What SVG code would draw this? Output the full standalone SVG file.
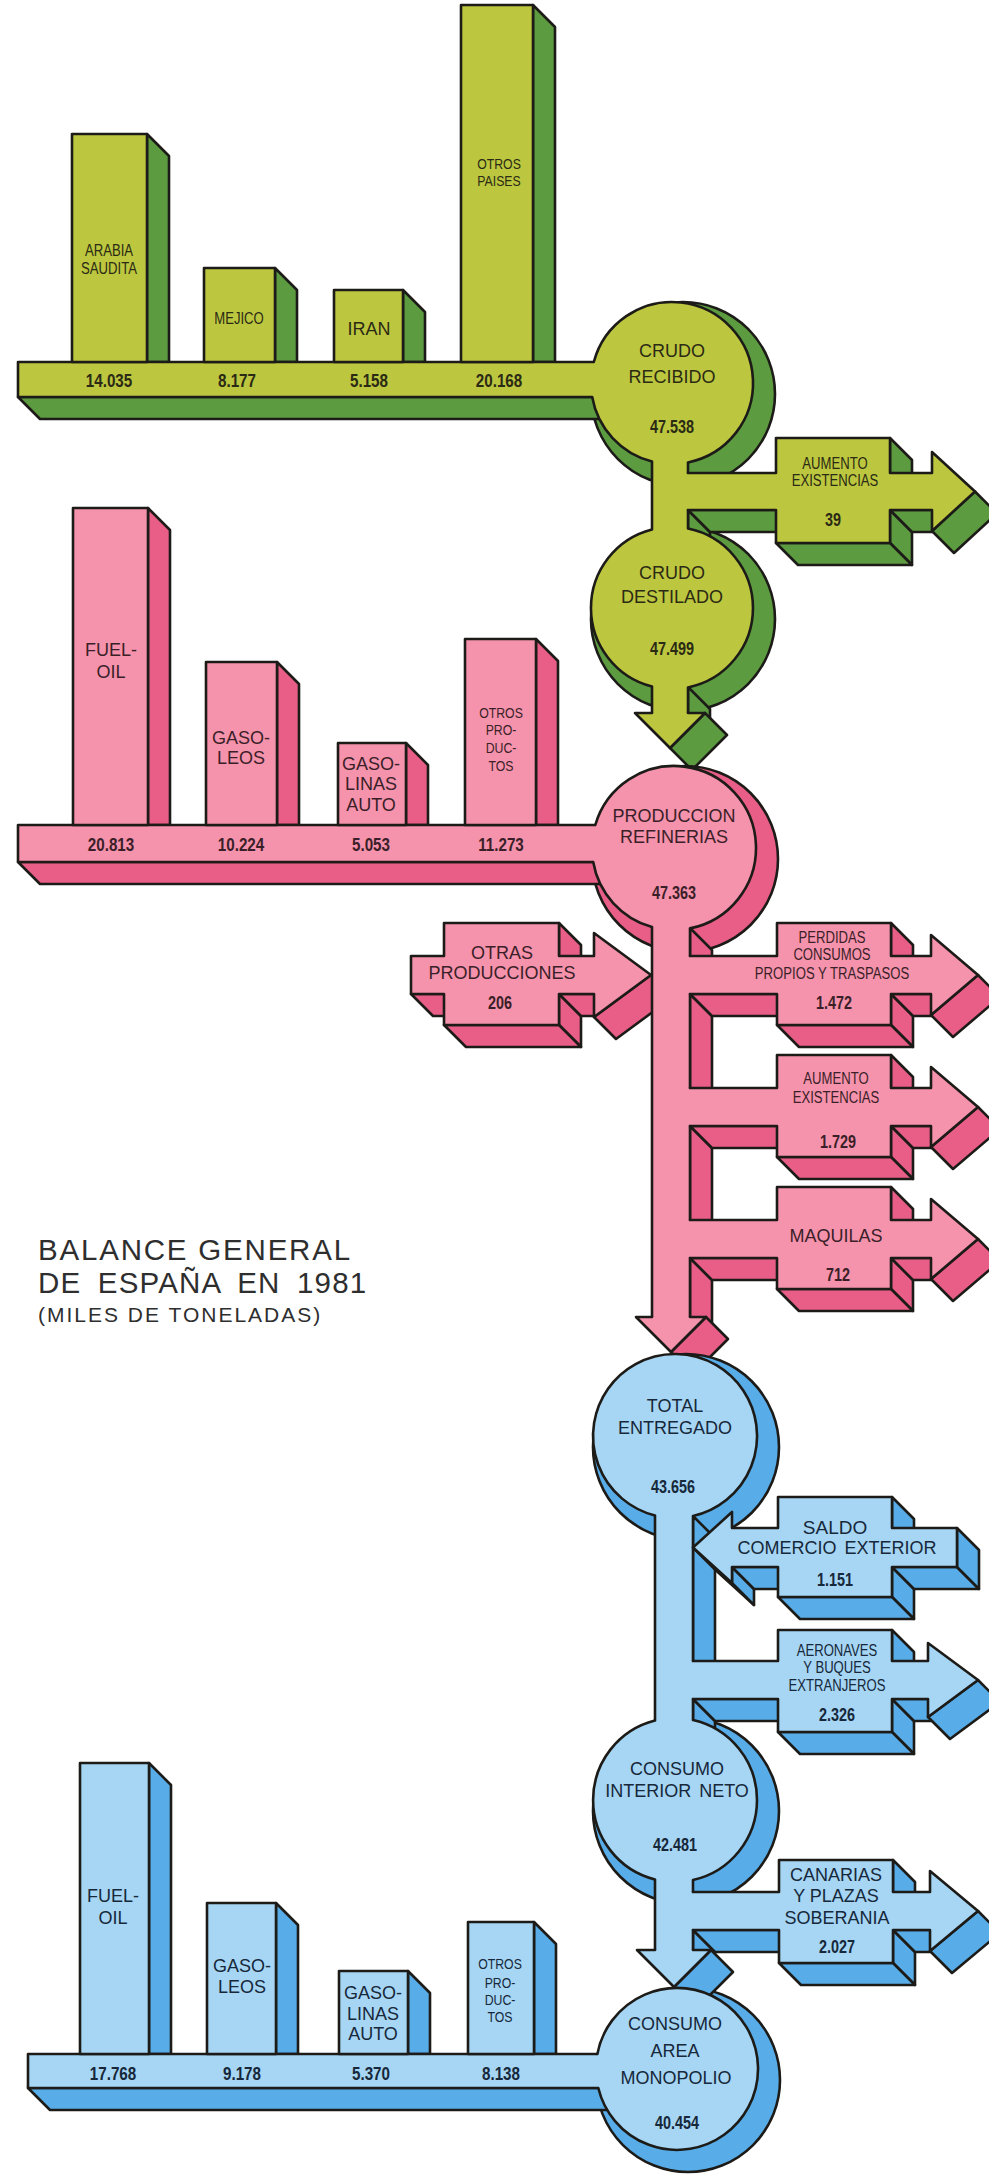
<svg xmlns="http://www.w3.org/2000/svg" width="989" height="2178" viewBox="0 0 989 2178">
<style>
.st{stroke:#1d1b18;stroke-width:2.6;stroke-linejoin:round;stroke-linecap:round}
.ln{fill:none;stroke:#1d1b18;stroke-width:2.6;stroke-linejoin:round;stroke-linecap:round}
.gL{fill:#bcc73f}.gD{fill:#5c9b40}
.pL{fill:#f592ac}.pD{fill:#e85e87}
.bL{fill:#a6d6f4}.bD{fill:#58ade8}
.t{font-family:'Liberation Sans',Arial,sans-serif;font-size:18px;text-anchor:middle}
.n{font-family:'Liberation Sans',Arial,sans-serif;font-size:16px;text-anchor:middle}
.s{font-family:'Liberation Sans',Arial,sans-serif;font-size:15px;text-anchor:middle}
.v{font-family:'Liberation Sans',Arial,sans-serif;font-weight:bold;font-size:19px;text-anchor:middle}
.cv{font-family:'Liberation Sans',Arial,sans-serif;font-weight:bold;font-size:18px;text-anchor:middle}
.tg{fill:#2b2a14}.tp{fill:#3b1f28}.tb{fill:#16283a}
.ti{font-family:'Liberation Sans',Arial,sans-serif;fill:#2e2e2e}
</style>
<rect width="989" height="2178" fill="#ffffff"/>

<g id="depth">
 <g id="depth-green" class="gD st">
  <circle cx="683" cy="394" r="92"/>
  <circle cx="683" cy="619" r="92"/>
  <path d="M147,134 L169,156 L169,362 L147,362Z"/>
  <path d="M275,268 L297,290 L297,362 L275,362Z"/>
  <path d="M403,290 L425,312 L425,362 L403,362Z"/>
  <path d="M533,5 L555,27 L555,362 L533,362Z"/>
  <path d="M18,397 L40,419 L610,419 L610,397Z"/>
  <path d="M688,510 L710,532 L710,551 L688,529Z"/>
  <path d="M688,510 L776,510 L798,532 L710,532Z"/>
  <path d="M890,438 L912,460 L912,495 L890,473Z"/>
  <path d="M890,510 L912,532 L912,565 L890,543Z"/>
  <path d="M776,543 L890,543 L912,565 L798,565Z"/>
  <path d="M890,510 L932,510 L954,532 L912,532Z"/>
  <path d="M975,491.5 L997,513.5 L954,553 L932,531Z"/>
  <path d="M688,687 L710,709 L710,735 L688,713Z"/>
  <path d="M705,713 L727,735 L692,770 L670,748Z"/>
 </g>
 <g id="depth-pink" class="pD st">
  <circle cx="685" cy="859" r="93"/>
  <path d="M148,508 L170,530 L170,825 L148,825Z"/>
  <path d="M277,662 L299,684 L299,825 L277,825Z"/>
  <path d="M406,743 L428,765 L428,825 L406,825Z"/>
  <path d="M536,639 L558,661 L558,825 L536,825Z"/>
  <path d="M18,862 L40,884 L610,884 L610,862Z"/>
  <path d="M690,928 L712,950 L712,978 L690,956Z"/>
  <path d="M690,994 L712,1016 L712,1110 L690,1088Z"/>
  <path d="M690,1126 L712,1148 L712,1242 L690,1220Z"/>
  <path d="M690,1258 L712,1280 L712,1339 L690,1317Z"/>
  <path d="M690,994 L777,994 L799,1016 L712,1016Z"/>
  <path d="M891,923 L913,945 L913,978 L891,956Z"/>
  <path d="M891,994 L913,1016 L913,1047 L891,1025Z"/>
  <path d="M777,1025 L891,1025 L913,1047 L799,1047Z"/>
  <path d="M891,994 L931,994 L953,1016 L913,1016Z"/>
  <path d="M978,975 L1000,997 L953,1037 L931,1015Z"/>
  <path d="M690,1126 L777,1126 L799,1148 L712,1148Z"/>
  <path d="M891,1055 L913,1077 L913,1110 L891,1088Z"/>
  <path d="M891,1126 L913,1148 L913,1179 L891,1157Z"/>
  <path d="M777,1157 L891,1157 L913,1179 L799,1179Z"/>
  <path d="M891,1126 L931,1126 L953,1148 L913,1148Z"/>
  <path d="M978,1107 L1000,1129 L953,1169 L931,1147Z"/>
  <path d="M690,1258 L777,1258 L799,1280 L712,1280Z"/>
  <path d="M891,1187 L913,1209 L913,1242 L891,1220Z"/>
  <path d="M891,1258 L913,1280 L913,1311 L891,1289Z"/>
  <path d="M777,1289 L891,1289 L913,1311 L799,1311Z"/>
  <path d="M891,1258 L931,1258 L953,1280 L913,1280Z"/>
  <path d="M978,1239 L1000,1261 L953,1301 L931,1279Z"/>
  <path d="M411,994 L444,994 L466,1016 L433,1016Z"/>
  <path d="M559,923 L581,945 L581,978 L559,956Z"/>
  <path d="M559,994 L581,1016 L581,1047 L559,1025Z"/>
  <path d="M444,1025 L559,1025 L581,1047 L466,1047Z"/>
  <path d="M559,994 L594,994 L616,1016 L581,1016Z"/>
  <path d="M651,975 L673,997 L616,1039 L594,1017Z"/>
  <path d="M706,1317 L728,1339 L693,1374 L671,1352Z"/>
 </g>
 <g id="depth-blue" class="bD st">
  <circle cx="686" cy="1447" r="93"/>
  <circle cx="686" cy="1811" r="93"/>
  <circle cx="688" cy="2080" r="92"/>
  <path d="M149,1763 L171,1785 L171,2054 L149,2054Z"/>
  <path d="M276,1903 L298,1925 L298,2054 L276,2054Z"/>
  <path d="M408,1971 L430,1993 L430,2054 L408,2054Z"/>
  <path d="M534,1922 L556,1944 L556,2054 L534,2054Z"/>
  <path d="M28,2088 L50,2110 L615,2110 L615,2088Z"/>
  <path d="M693,1516 L715,1538 L715,1683 L693,1661Z"/>
  <path d="M693,1699 L715,1721 L715,1742 L693,1720Z"/>
  <path d="M693,1930 L715,1952 L715,1972 L693,1950Z"/>
  <path d="M693,1547.5 L732,1583 L754,1605 L715,1569.5Z"/>
  <path d="M732,1567 L754,1589 L754,1605 L732,1583Z"/>
  <path d="M732,1567 L778,1567 L800,1589 L754,1589Z"/>
  <path d="M892,1497 L914,1519 L914,1550 L892,1528Z"/>
  <path d="M892,1567 L914,1589 L914,1619 L892,1597Z"/>
  <path d="M778,1597 L892,1597 L914,1619 L800,1619Z"/>
  <path d="M892,1567 L957,1567 L979,1589 L914,1589Z"/>
  <path d="M957,1528 L979,1550 L979,1589 L957,1567Z"/>
  <path d="M693,1699 L778,1699 L800,1721 L715,1721Z"/>
  <path d="M892,1630 L914,1652 L914,1683 L892,1661Z"/>
  <path d="M892,1699 L914,1721 L914,1754 L892,1732Z"/>
  <path d="M778,1732 L892,1732 L914,1754 L800,1754Z"/>
  <path d="M892,1699 L928,1699 L950,1721 L914,1721Z"/>
  <path d="M978,1680 L1000,1702 L950,1739 L928,1717Z"/>
  <path d="M693,1930 L779,1930 L801,1952 L715,1952Z"/>
  <path d="M893,1860 L915,1882 L915,1914 L893,1892Z"/>
  <path d="M893,1930 L915,1952 L915,1985 L893,1963Z"/>
  <path d="M779,1963 L893,1963 L915,1985 L801,1985Z"/>
  <path d="M893,1930 L930,1930 L952,1952 L915,1952Z"/>
  <path d="M978,1911 L1000,1933 L952,1973 L930,1951Z"/>
  <path d="M711,1950 L733,1972 L696,2009 L674,1987Z"/>
 </g>
</g>

<g id="connectors">
 <g id="flow-green">
  <rect x="18" y="362" width="600" height="35" class="gL"/>
  <path class="ln" d="M593.8,362 L18,362 L18,397 L592.2,397"/>
  <rect x="652" y="455" width="36" height="82" class="gL"/>
  <path class="ln" d="M652,461.5 L652,529.5 M688,462.4 L688,473 M688,510 L688,528.6"/>
  <rect x="652" y="680" width="36" height="34" class="gL"/>
  <path class="ln" d="M652,686.5 L652,713 M688,687.4 L688,713"/>
  <path class="gL st" d="M652,713 L635,713 L670,748 L705,713 L688,713"/>
 </g>
 <g id="flow-pink">
  <rect x="18" y="825" width="602" height="37" class="pL"/>
  <path class="ln" d="M595.3,825 L18,825 L18,862 L593.2,862"/>
  <rect x="652" y="920" width="38" height="398" class="pL"/>
  <path class="ln" d="M652,927 L652,1317 M690,928.4 L690,956 M690,994 L690,1088 M690,1126 L690,1220 M690,1258 L690,1317"/>
  <path class="pL st" d="M652,1317 L636,1317 L671,1352 L706,1317 L690,1317"/>
 </g>
 <g id="flow-blue">
  <rect x="28" y="2054" width="592" height="34" class="bL"/>
  <path class="ln" d="M597.4,2054 L28,2054 L28,2088 L598.3,2088"/>
  <rect x="655" y="1508" width="38" height="220" class="bL"/>
  <path class="ln" d="M655,1515.5 L655,1720.5 M693,1516 L693,1661 M693,1699 L693,1720"/>
  <rect x="655" y="1872" width="38" height="79" class="bL"/>
  <path class="ln" d="M655,1879.5 L655,1950 M693,1879.5 L693,1892 M693,1930 L693,1950"/>
  <path class="bL st" d="M655,1950 L637,1950 L674,1987 L711,1950 L693,1950"/>
 </g>
</g>

<!-- GREEN NODES -->
<g id="bar-arabia-saudita">
 <rect x="72" y="134" width="75" height="228" class="gL st"/>
 <text class="n tg" transform="translate(109,256) scale(0.82,1)">ARABIA</text>
 <text class="n tg" transform="translate(109,274) scale(0.82,1)">SAUDITA</text>
 <text class="v tg" transform="translate(109,387) scale(0.8,1)">14.035</text>
</g>
<g id="bar-mejico">
 <rect x="204" y="268" width="71" height="94" class="gL st"/>
 <text class="n tg" transform="translate(239,324) scale(0.82,1)">MEJICO</text>
 <text class="v tg" transform="translate(237,387) scale(0.8,1)">8.177</text>
</g>
<g id="bar-iran">
 <rect x="334" y="290" width="69" height="72" class="gL st"/>
 <text class="t tg" x="369" y="334.5">IRAN</text>
 <text class="v tg" transform="translate(369,387) scale(0.8,1)">5.158</text>
</g>
<g id="bar-otros-paises">
 <rect x="461" y="5" width="72" height="357" class="gL st"/>
 <text class="s tg" transform="translate(499,168.5) scale(0.82,1)">OTROS</text>
 <text class="s tg" transform="translate(499,185.5) scale(0.82,1)">PAISES</text>
 <text class="v tg" transform="translate(499,387) scale(0.8,1)">20.168</text>
</g>
<g id="crudo-recibido">
 <circle cx="672" cy="383" r="81" class="gL"/>
 <path class="ln" d="M593.8,362 A81,81 0 1 1 688,462.4 M652,461.5 A81,81 0 0 1 592.2,397"/>
 <text class="t tg" x="672" y="356.5">CRUDO</text>
 <text class="t tg" x="672" y="383">RECIBIDO</text>
 <text class="cv tg" transform="translate(672,433) scale(0.8,1)">47.538</text>
</g>
<g id="aumento-existencias-crudo">
 <path class="gL st" d="M688,473 L776,473 L776,438 L890,438 L890,473 L932,473 L932,452 L975,491.5 L932,531 L932,510 L890,510 L890,543 L776,543 L776,510 L688,510"/>
 <text class="n tg" transform="translate(835,469) scale(0.82,1)">AUMENTO</text>
 <text class="n tg" transform="translate(835,486) scale(0.82,1)">EXISTENCIAS</text>
 <text class="cv tg" transform="translate(833,526) scale(0.8,1)">39</text>
</g>
<g id="crudo-destilado">
 <circle cx="672" cy="608" r="81" class="gL"/>
 <path class="ln" d="M688,528.6 A81,81 0 0 1 688,687.4 M652,686.5 A81,81 0 0 1 652,529.5"/>
 <text class="t tg" x="672" y="578.5">CRUDO</text>
 <text class="t tg" x="672" y="603">DESTILADO</text>
 <text class="cv tg" transform="translate(672,655) scale(0.8,1)">47.499</text>
</g>

<!-- PINK NODES -->
<g id="bar-fuel-oil-prod">
 <rect x="73" y="508" width="75" height="317" class="pL st"/>
 <text class="t tp" x="111" y="656">FUEL-</text>
 <text class="t tp" x="111" y="678">OIL</text>
 <text class="v tp" transform="translate(111,851) scale(0.8,1)">20.813</text>
</g>
<g id="bar-gasoleos-prod">
 <rect x="206" y="662" width="71" height="163" class="pL st"/>
 <text class="t tp" x="241" y="743.5">GASO-</text>
 <text class="t tp" x="241" y="764">LEOS</text>
 <text class="v tp" transform="translate(241,851) scale(0.8,1)">10.224</text>
</g>
<g id="bar-gasolinas-prod">
 <rect x="338" y="743" width="68" height="82" class="pL st"/>
 <text class="t tp" x="371" y="769.5">GASO-</text>
 <text class="t tp" x="371" y="790">LINAS</text>
 <text class="t tp" x="371" y="810.5">AUTO</text>
 <text class="v tp" transform="translate(371,851) scale(0.8,1)">5.053</text>
</g>
<g id="bar-otros-productos-prod">
 <rect x="465" y="639" width="71" height="186" class="pL st"/>
 <text class="s tp" transform="translate(501,717.5) scale(0.82,1)">OTROS</text>
 <text class="s tp" transform="translate(501,734.5) scale(0.82,1)">PRO-</text>
 <text class="s tp" transform="translate(501,752.5) scale(0.82,1)">DUC-</text>
 <text class="s tp" transform="translate(501,770.5) scale(0.82,1)">TOS</text>
 <text class="v tp" transform="translate(501,851) scale(0.8,1)">11.273</text>
</g>
<g id="produccion-refinerias">
 <circle cx="674" cy="848" r="82" class="pL"/>
 <path class="ln" d="M595.3,825 A82,82 0 1 1 690,928.4 M652,927 A82,82 0 0 1 593.2,862"/>
 <text class="t tp" x="674" y="822">PRODUCCION</text>
 <text class="t tp" x="674" y="843">REFINERIAS</text>
 <text class="cv tp" transform="translate(674,899) scale(0.8,1)">47.363</text>
</g>
<g id="otras-producciones">
 <path class="pL st" d="M411,956 L444,956 L444,923 L559,923 L559,956 L594,956 L594,933 L651,975 L594,1017 L594,994 L559,994 L559,1025 L444,1025 L444,994 L411,994 Z"/>
 <text class="t tp" x="502" y="958.5">OTRAS</text>
 <text class="t tp" x="502" y="978.5">PRODUCCIONES</text>
 <text class="cv tp" transform="translate(500,1009) scale(0.8,1)">206</text>
</g>
<g id="perdidas-consumos">
 <path class="pL st" d="M690,956 L777,956 L777,923 L891,923 L891,956 L931,956 L931,935 L978,975 L931,1015 L931,994 L891,994 L891,1025 L777,1025 L777,994 L690,994"/>
 <text class="n tp" transform="translate(832,943) scale(0.82,1)">PERDIDAS</text>
 <text class="n tp" transform="translate(832,960) scale(0.82,1)">CONSUMOS</text>
 <text class="n tp" transform="translate(832,979) scale(0.82,1)">PROPIOS Y TRASPASOS</text>
 <text class="cv tp" transform="translate(834,1009) scale(0.8,1)">1.472</text>
</g>
<g id="aumento-existencias-prod">
 <path class="pL st" d="M690,1088 L777,1088 L777,1055 L891,1055 L891,1088 L931,1088 L931,1067 L978,1107 L931,1147 L931,1126 L891,1126 L891,1157 L777,1157 L777,1126 L690,1126"/>
 <text class="n tp" transform="translate(836,1084) scale(0.82,1)">AUMENTO</text>
 <text class="n tp" transform="translate(836,1103) scale(0.82,1)">EXISTENCIAS</text>
 <text class="cv tp" transform="translate(838,1148) scale(0.8,1)">1.729</text>
</g>
<g id="maquilas">
 <path class="pL st" d="M690,1220 L777,1220 L777,1187 L891,1187 L891,1220 L931,1220 L931,1199 L978,1239 L931,1279 L931,1258 L891,1258 L891,1289 L777,1289 L777,1258 L690,1258"/>
 <text class="t tp" x="836" y="1241.5">MAQUILAS</text>
 <text class="cv tp" transform="translate(838,1281) scale(0.8,1)">712</text>
</g>

<g id="title">
 <text class="ti" x="38" y="1260" style="font-size:29.5px;letter-spacing:1.8px">BALANCE GENERAL</text>
 <text class="ti" x="38" y="1293" style="font-size:29.5px;letter-spacing:1.2px;word-spacing:7px">DE ESPAÑA EN 1981</text>
 <text class="ti" x="38" y="1322" style="font-size:21px;letter-spacing:2px">(MILES DE TONELADAS)</text>
</g>

<!-- BLUE NODES -->
<g id="total-entregado">
 <circle cx="675" cy="1436" r="82" class="bL"/>
 <path class="ln" d="M693,1516 A82,82 0 1 0 655,1515.5"/>
 <text class="t tb" x="675" y="1411.5">TOTAL</text>
 <text class="t tb" x="675" y="1433.5">ENTREGADO</text>
 <text class="cv tb" transform="translate(673,1493) scale(0.8,1)">43.656</text>
</g>
<g id="saldo-comercio-exterior">
 <path class="bL st" d="M693,1547.5 L732,1512 L732,1528 L778,1528 L778,1497 L892,1497 L892,1528 L957,1528 L957,1567 L892,1567 L892,1597 L778,1597 L778,1567 L732,1567 L732,1583 Z"/>
 <text class="t tb" x="835" y="1534" style="font-size:19px">SALDO</text>
 <text class="t tb" x="837" y="1553.5" style="word-spacing:3px">COMERCIO EXTERIOR</text>
 <text class="cv tb" transform="translate(835,1586) scale(0.8,1)">1.151</text>
</g>
<g id="aeronaves-buques">
 <path class="bL st" d="M693,1661 L778,1661 L778,1630 L892,1630 L892,1661 L928,1661 L928,1643 L978,1680 L928,1717 L928,1699 L892,1699 L892,1732 L778,1732 L778,1699 L693,1699"/>
 <text class="n tb" transform="translate(837,1656) scale(0.82,1)">AERONAVES</text>
 <text class="n tb" transform="translate(837,1673) scale(0.82,1)">Y BUQUES</text>
 <text class="n tb" transform="translate(837,1691) scale(0.82,1)">EXTRANJEROS</text>
 <text class="cv tb" transform="translate(837,1721) scale(0.8,1)">2.326</text>
</g>
<g id="consumo-interior-neto">
 <circle cx="675" cy="1800" r="82" class="bL"/>
 <path class="ln" d="M693,1720 A82,82 0 0 1 693,1880 M655,1879.5 A82,82 0 0 1 655,1720.5"/>
 <text class="t tb" x="677" y="1774.5">CONSUMO</text>
 <text class="t tb" x="677" y="1796.5" style="word-spacing:3px">INTERIOR NETO</text>
 <text class="cv tb" transform="translate(675,1851) scale(0.8,1)">42.481</text>
</g>
<g id="canarias-plazas-soberania">
 <path class="bL st" d="M693,1892 L779,1892 L779,1860 L893,1860 L893,1892 L930,1892 L930,1871 L978,1911 L930,1951 L930,1930 L893,1930 L893,1963 L779,1963 L779,1930 L693,1930"/>
 <text class="t tb" x="836" y="1880.5">CANARIAS</text>
 <text class="t tb" x="836" y="1901.5">Y PLAZAS</text>
 <text class="t tb" x="837" y="1923.5">SOBERANIA</text>
 <text class="cv tb" transform="translate(837,1953) scale(0.8,1)">2.027</text>
</g>
<g id="consumo-area-monopolio">
 <circle cx="677" cy="2069" r="81" class="bL"/>
 <path class="ln" d="M598.3,2088 A81,81 0 1 0 597.4,2054"/>
 <text class="t tb" x="675" y="2029.5">CONSUMO</text>
 <text class="t tb" x="675" y="2056.5">AREA</text>
 <text class="t tb" x="676" y="2083.5">MONOPOLIO</text>
 <text class="cv tb" transform="translate(677,2129) scale(0.8,1)">40.454</text>
</g>
<g id="bar-fuel-oil-cons">
 <rect x="80" y="1763" width="69" height="291" class="bL st"/>
 <text class="t tb" x="113" y="1901.5">FUEL-</text>
 <text class="t tb" x="113" y="1923.5">OIL</text>
 <text class="v tb" transform="translate(113,2080) scale(0.8,1)">17.768</text>
</g>
<g id="bar-gasoleos-cons">
 <rect x="207" y="1903" width="69" height="151" class="bL st"/>
 <text class="t tb" x="242" y="1971.5">GASO-</text>
 <text class="t tb" x="242" y="1992.5">LEOS</text>
 <text class="v tb" transform="translate(242,2080) scale(0.8,1)">9.178</text>
</g>
<g id="bar-gasolinas-cons">
 <rect x="339" y="1971" width="69" height="83" class="bL st"/>
 <text class="t tb" x="373" y="1998.5">GASO-</text>
 <text class="t tb" x="373" y="2019.5">LINAS</text>
 <text class="t tb" x="373" y="2039.5">AUTO</text>
 <text class="v tb" transform="translate(371,2080) scale(0.8,1)">5.370</text>
</g>
<g id="bar-otros-productos-cons">
 <rect x="468" y="1922" width="66" height="132" class="bL st"/>
 <text class="s tb" transform="translate(500,1968.5) scale(0.82,1)">OTROS</text>
 <text class="s tb" transform="translate(500,1987.5) scale(0.82,1)">PRO-</text>
 <text class="s tb" transform="translate(500,2004.5) scale(0.82,1)">DUC-</text>
 <text class="s tb" transform="translate(500,2021.5) scale(0.82,1)">TOS</text>
 <text class="v tb" transform="translate(501,2080) scale(0.8,1)">8.138</text>
</g>
</svg>
